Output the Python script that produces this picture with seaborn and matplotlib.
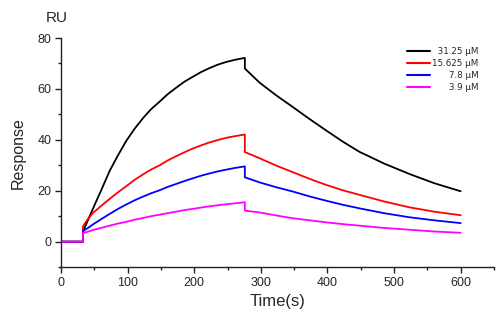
import matplotlib
matplotlib.use("Agg")
import matplotlib.pyplot as plt
import seaborn as sns
import pandas as pd
from matplotlib.ticker import MultipleLocator

# Data
time = [0, 33, 33, 40, 48, 60, 73, 85, 98, 110, 123, 135, 148, 160, 173, 185,
        198, 210, 223, 235, 248, 262, 276, 276,
        298, 323, 348, 373, 398, 423, 448, 485, 523, 560, 600]
c31 = [0, 0, 4.0, 8.2, 13.0, 20.0, 27.8, 33.7, 39.6, 44.2, 48.5, 52.0, 55.0, 57.9,
       60.5, 62.8, 64.8, 66.6, 68.2, 69.5, 70.6, 71.5, 72.2, 68.0,
       62.5, 57.5, 52.9, 48.2, 43.7, 39.3, 35.3, 30.7, 26.6, 23.0, 19.8]
c15 = [0, 0, 6.0, 8.8, 11.3, 14.0, 16.8, 19.3, 21.8, 24.2, 26.4, 28.3, 30.0, 31.9,
       33.6, 35.1, 36.6, 37.8, 39.0, 39.9, 40.8, 41.5, 42.1, 35.2,
       32.8, 29.9, 27.3, 24.7, 22.3, 20.2, 18.4, 15.8, 13.5, 11.8, 10.4]
c78 = [0, 0, 4.2, 5.3, 6.8, 8.8, 10.9, 12.8, 14.6, 16.2, 17.7, 19.0, 20.2, 21.5,
       22.7, 23.8, 24.9, 25.9, 26.8, 27.6, 28.3, 29.0, 29.6, 25.3,
       23.3, 21.4, 19.7, 17.8, 16.1, 14.5, 13.1, 11.2, 9.6, 8.4, 7.3]
c39 = [0, 0, 3.4, 3.9, 4.6, 5.4, 6.3, 7.1, 7.8, 8.6, 9.3, 10.0, 10.6, 11.2,
       11.8, 12.4, 12.9, 13.4, 13.9, 14.3, 14.7, 15.1, 15.5, 12.2,
       11.5, 10.3, 9.2, 8.4, 7.6, 6.9, 6.3, 5.4, 4.7, 4.0, 3.5]
# figure spaces (U+2007, digit width in DejaVu Sans) right-align the labels
labels = ["\u200731.25 μM", "15.625 μM", "\u2007\u2007\u20077.8 μM",
          "\u2007\u2007\u20073.9 μM"]
colors = ["#000000", "#ff0000", "#0000ff", "#ff00ff"]

frames = []
for lab, vals in zip(labels, [c31, c15, c78, c39]):
    frames.append(pd.DataFrame({"Time": time, "Response": vals, "conc": lab}))
df = pd.concat(frames, ignore_index=True)

sns.set_style("ticks")
plt.rcParams["font.family"] = ["Liberation Sans", "DejaVu Sans"]

fig = plt.figure(figsize=(5, 3.25), dpi=100)
ax = fig.add_axes([0.122, 0.178, 0.866, 0.705])

sns.lineplot(data=df, x="Time", y="Response", hue="conc", hue_order=labels,
             palette=colors, estimator=None, sort=False, linewidth=1.3, ax=ax)

ax.set_xlim(0, 650)
ax.set_ylim(-10, 80)
ax.set_xticks([0, 100, 200, 300, 400, 500, 600])
ax.xaxis.set_minor_locator(MultipleLocator(50))
ax.yaxis.set_major_locator(MultipleLocator(20))
ax.yaxis.set_minor_locator(MultipleLocator(10))
ax.tick_params(axis="both", which="major", direction="out", length=4, width=1,
               labelsize=9, color="#222222", pad=3)
ax.tick_params(axis="both", which="minor", direction="out", length=2.5, width=1,
               color="#222222")
for s in ["top", "right"]:
    ax.spines[s].set_visible(False)
for s in ["left", "bottom"]:
    ax.spines[s].set_linewidth(1.0)
    ax.spines[s].set_color("#222222")

ax.set_xlabel("Time(s)", fontsize=12, labelpad=4)
ax.set_ylabel("Response", fontsize=11.5, labelpad=8)
fig.text(0.091, 0.945, "RU", fontsize=11, ha="left", va="center")

leg = ax.legend(loc="upper right", bbox_to_anchor=(0.982, 0.997), frameon=False,
                prop={"family": "DejaVu Sans", "size": 6.3},
                handlelength=2.6, handletextpad=0.25,
                labelspacing=0.36, title=None)
for line in leg.get_lines():
    line.set_linewidth(1.5)

fig.savefig("out.png", dpi=100)
